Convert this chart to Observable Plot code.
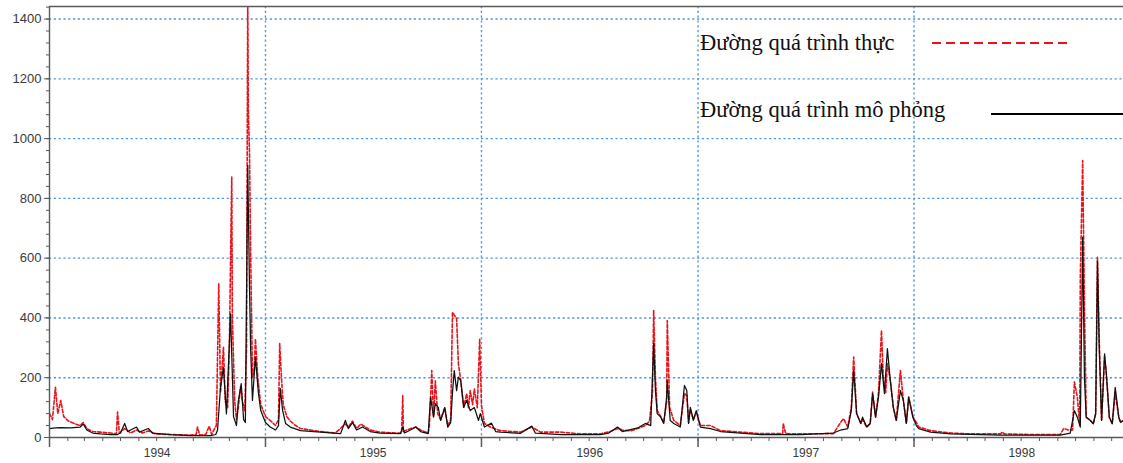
<!DOCTYPE html>
<html>
<head>
<meta charset="utf-8">
<script src="https://cdn.jsdelivr.net/npm/d3@7"></script>
<script src="https://cdn.jsdelivr.net/npm/@observablehq/plot@0.6"></script>
<style>
  html, body { margin: 0; padding: 0; background: #fff; }
  #wrap { position: relative; width: 1123px; height: 463px; overflow: hidden; }
  .leg { position: absolute; font-family: "Liberation Serif", "DejaVu Serif", serif; font-size: 22.5px; color: #111; white-space: nowrap; }
  .sw { position: absolute; }
</style>
</head>
<body>
<div id="wrap"></div>
<script>
// ---- data (days since 1994-01-01, discharge m3/s) ----
const seriesNames = ["Đường quá trình thực", "Đường quá trình mô phỏng"];
const yearLabels = ["1994", "1995", "1996", "1997", "1998"];
const yTicks = [0, 200, 400, 600, 800, 1000, 1200, 1400];

const obsDays = [0,5,10,14,19,24,32,44,52,57,63,73,86,103,113,115,118,127,137,147,157,167,179,204,238,248,250,254,264,270,274,279,282,286,289,294,297,301,304,306,308,309,313,316,319,323,326,330,333,335,336,338,340,343,346,348,352,357,365,373,382,387,389,392,395,401,407,416,424,441,458,483,500,505,512,519,526,534,542,559,585,595,597,598,610,619,627,640,642,646,649,652,656,661,668,673,678,681,684,688,691,695,700,705,708,711,715,718,723,727,730,735,745,754,762,796,815,830,864,897,931,948,960,968,982,994,1007,1014,1019,1021,1024,1027,1033,1038,1043,1044,1048,1055,1066,1073,1077,1080,1083,1088,1093,1100,1105,1117,1134,1168,1202,1239,1240,1244,1269,1320,1325,1337,1342,1349,1355,1359,1364,1371,1374,1381,1387,1391,1396,1401,1406,1409,1413,1416,1421,1426,1431,1438,1443,1448,1452,1459,1465,1469,1489,1523,1556,1607,1610,1614,1658,1708,1714,1722,1729,1732,1737,1741,1742,1746,1749,1752,1759,1764,1768,1771,1774,1778,1783,1786,1791,1796,1801,1807,1810,1815];
const obsValues = [80,60,168,80,124,70,55,45,40,50,30,20,18,15,12,85,15,30,15,25,15,22,12,10,8,10,35,8,10,38,10,30,40,514,150,302,120,100,300,600,871,400,120,60,100,170,120,90,300,1480,1100,950,600,200,230,330,200,110,70,57,40,60,314,200,110,70,55,40,30,25,20,15,45,35,55,30,45,35,25,18,15,15,140,20,30,35,25,15,40,224,70,190,80,60,100,40,60,419,410,398,247,190,101,147,100,157,110,162,100,330,107,47,35,28,23,18,35,18,18,12,12,20,30,25,22,30,40,55,150,425,200,90,70,50,120,391,100,57,40,147,140,50,95,60,85,40,40,40,23,18,13,13,47,13,12,13,13,51,63,35,100,269,80,47,60,35,47,152,68,150,358,200,150,247,190,101,57,224,124,47,135,70,50,35,23,15,12,12,18,12,10,10,30,25,25,186,135,40,536,927,436,68,57,46,80,603,324,57,270,214,68,46,150,68,51,57];

const simDays = [0,10,19,35,52,57,63,73,86,103,115,120,127,132,147,152,167,174,204,238,272,281,284,289,294,299,306,311,316,319,324,328,331,335,338,340,343,348,353,357,365,373,382,387,390,394,399,407,424,458,492,500,505,512,519,529,542,559,593,597,600,610,619,627,640,644,649,652,657,661,668,673,678,681,684,688,691,695,700,705,711,718,725,728,735,747,754,762,796,815,821,830,864,931,945,960,968,994,1007,1016,1021,1024,1027,1033,1038,1043,1044,1049,1055,1066,1073,1077,1080,1083,1088,1093,1100,1117,1134,1168,1202,1269,1325,1337,1349,1355,1359,1364,1371,1374,1381,1387,1391,1396,1401,1406,1411,1416,1421,1426,1431,1438,1443,1448,1452,1459,1465,1469,1489,1523,1607,1708,1725,1732,1737,1742,1746,1749,1752,1759,1764,1768,1771,1774,1778,1783,1786,1791,1796,1801,1807,1810,1815];
const simValues = [30,32,33,32,35,45,25,15,12,10,10,15,47,20,35,18,30,15,10,6,6,10,25,168,235,79,414,70,40,120,180,60,50,910,500,290,124,268,150,90,50,35,25,40,164,90,47,35,23,18,13,57,30,50,25,35,20,15,13,35,15,25,35,20,13,135,68,113,101,57,100,35,50,150,224,157,202,190,101,124,90,100,57,80,35,48,20,18,14,38,15,14,10,10,15,35,20,32,47,40,314,157,80,68,47,135,190,57,47,35,174,157,47,101,57,90,35,30,20,15,10,10,15,25,30,90,224,80,47,68,35,47,147,68,135,247,147,297,190,101,57,157,124,47,135,68,40,30,18,12,8,8,15,90,68,35,670,196,68,57,46,80,590,300,57,280,214,68,46,168,68,51,57];

// ---- build tables ----
const start = new Date(Date.UTC(1994, 0, 1));
const toDate = d => d3.utcDay.offset(start, d);
const obs = obsDays.map((d, i) => ({date: toDate(d), value: obsValues[i]}));
const sim = simDays.map((d, i) => ({date: toDate(d), value: simValues[i]}));
const end = toDate(1815);
const yMax = 1442;

const yearStarts = d3.utcYear.range(start, end);
const gridYears = yearStarts.slice(1);
const months = d3.utcMonth.range(start, end);
const midYears = yearLabels.map(y => new Date(Date.UTC(+y, 6, 2)));
const yMinor = d3.range(0, yMax, 40);
const gridY = yTicks.filter(v => v > 0);

const gridStyle = {stroke: "#4f9ad9", strokeWidth: 1.4, strokeDasharray: "2.2,2.6"};
const axisColor = "#5a5a5a";

const chart = Plot.plot({
  width: 1123,
  height: 463,
  marginLeft: 49,
  marginRight: 0,
  marginTop: 6,
  marginBottom: 26,
  style: {fontFamily: "Liberation Sans, Arial, sans-serif", background: "#fff"},
  x: {type: "utc", domain: [start, end], axis: null, label: null},
  y: {domain: [0, yMax], axis: null, label: null},
  marks: [
    Plot.ruleY(gridY, gridStyle),
    Plot.ruleX(gridYears, gridStyle),
    Plot.line(obs, {x: "date", y: "value", stroke: "#e8141c", strokeWidth: 1.6, strokeDasharray: "3.5,2", clip: true}),
    Plot.line(sim, {x: "date", y: "value", stroke: "#111", strokeWidth: 1.25, clip: true}),
    Plot.ruleY([0], {stroke: axisColor, strokeWidth: 1.4}),
    Plot.ruleY([yMax], {stroke: axisColor, strokeWidth: 1.6}),
    Plot.ruleX([start], {stroke: axisColor, strokeWidth: 1.4}),
    Plot.axisY({ticks: yMinor, tickSize: 3, tickFormat: () => "", stroke: axisColor, label: null}),
    Plot.axisY({ticks: yTicks, tickSize: 5, tickPadding: 3, tickFormat: d => String(d), fontSize: 13, fill: "#3a3a3a", stroke: axisColor, label: null}),
    Plot.axisX({ticks: months, tickSize: 4, tickFormat: () => "", stroke: axisColor, label: null}),
    Plot.axisX({ticks: yearStarts, tickSize: 10, tickFormat: () => "", stroke: axisColor, strokeWidth: 1.5, label: null}),
    Plot.axisX({ticks: midYears, tickSize: 0, tickPadding: 11, tickFormat: (d, i) => yearLabels[i], fontSize: 12, fill: "#3a3a3a", label: null})
  ]
});

const wrap = document.getElementById("wrap");
wrap.appendChild(chart);

// legend (inside the plot area, as in the reference)
function addText(txt, left, top) {
  const el = document.createElement("div");
  el.className = "leg";
  el.textContent = txt;
  el.style.left = left + "px";
  el.style.top = top + "px";
  wrap.appendChild(el);
}
function addSwatch(left, top, w, color, dash, sw) {
  const s = d3.create("svg").attr("class", "sw").attr("width", w).attr("height", 6)
    .style("left", left + "px").style("top", (top - 3) + "px");
  s.append("line").attr("x1", 0).attr("x2", w).attr("y1", 3).attr("y2", 3)
    .attr("stroke", color).attr("stroke-width", sw).attr("stroke-dasharray", dash);
  wrap.appendChild(s.node());
}
addText(seriesNames[0], 700, 30);
addSwatch(932, 43, 138, "#e8141c", "9,5", 1.8);
addText(seriesNames[1], 700, 97);
addSwatch(991, 114, 132, "#000", null, 1.8);
</script>
</body>
</html>
